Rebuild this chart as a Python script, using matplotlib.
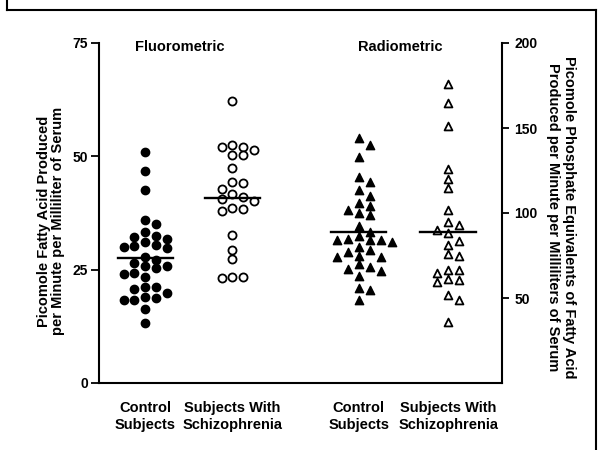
import matplotlib.pyplot as plt
from matplotlib.lines import Line2D

plt.rcParams['font.family'] = ['Liberation Sans', 'DejaVu Sans']
plt.rcParams['font.weight'] = 'bold'

# Datos
groups = ["Control\nSubjects", "Subjects With\nSchizophrenia",
          "Control\nSubjects", "Subjects With\nSchizophrenia"]
panel_titles = ["Fluorometric", "Radiometric"]

# Fluorometrico (eje izquierdo, pmol acido graso / min / ml)
fluoro_control = [51.0, 46.8, 42.6, 36.0, 35.1, 33.4, 32.4, 32.1, 31.7, 31.2, 30.4,
                  30.2, 30.1, 29.7, 27.9, 27.1, 26.5, 25.7, 25.7, 25.3, 24.3, 24.0,
                  23.4, 21.2, 21.2, 20.7, 19.8, 19.0, 18.7, 18.3, 18.3, 16.3, 13.2]
fluoro_schizo = [62.2, 52.6, 52.1, 52.0, 51.5, 50.3, 50.3, 47.5, 44.4, 44.2, 42.7,
                 41.7, 41.0, 40.5, 40.2, 38.7, 38.3, 37.9, 32.6, 29.3, 27.3, 23.3,
                 23.3, 23.1]
fluoro_medians = [27.6, 40.8]

# Radiometrico (eje derecho, pmol equivalentes de fosfato / min / ml)
radio_control = [144, 140, 133, 121, 118, 113.5, 110, 106, 104, 102, 100, 99, 92.5,
                 89, 86.5, 85, 84, 84, 84, 83, 80, 78, 77, 75, 74, 74, 70, 68, 67,
                 66, 63, 56, 55, 49]
radio_schizo = [176, 165, 151, 126, 120, 115, 102, 94.5, 93, 90, 88, 83.5, 81, 76,
                75, 66.5, 66.5, 65, 61, 60.5, 59.5, 52, 49, 36]
radio_medians = [88.8, 88.8]

positions = [1, 2, 3.45, 4.48]


def swarm(values, center, px_per_unit, step=0.126, min_px=8):
    # colocacion simple en columnas para que los puntos no se tapen
    slots = [0, 1, -1, 2, -2, 3, -3, 4, -4]
    placed = []
    xs = []
    for v in values:
        for s in slots:
            if all(not (ps == s and abs(pv - v) * px_per_unit < min_px) for pv, ps in placed):
                placed.append((v, s))
                xs.append(center + s * step)
                break
    return xs


fig = plt.figure(figsize=(5.98, 4.5), dpi=100)
ax = fig.add_axes([99 / 598, 1 - 383 / 450, 403 / 598, 340 / 450])
ax2 = ax.twinx()

ax.set_xlim(0.466, 5.098)
ax.set_ylim(0, 75)
ax2.set_ylim(0, 200)

left_ppu = 340 / 75
right_ppu = 340 / 200

ax.scatter(swarm(fluoro_control, positions[0], left_ppu), fluoro_control,
           s=36, marker='o', color='black', zorder=3)
ax.scatter(swarm(fluoro_schizo, positions[1], left_ppu), fluoro_schizo,
           s=34, marker='o', facecolor='white', edgecolor='black', linewidth=1.3, zorder=3)
ax2.scatter(swarm(radio_control, positions[2], right_ppu), radio_control,
            s=36, marker='^', color='black', zorder=3)
ax2.scatter(swarm(radio_schizo, positions[3], right_ppu), radio_schizo,
            s=32, marker='^', facecolor='white', edgecolor='black', linewidth=1.3, zorder=3)

for p, m in zip(positions[:2], fluoro_medians):
    ax.plot([p - 0.32, p + 0.32], [m, m], color='black', lw=1.7, zorder=4)
for p, m in zip(positions[2:], radio_medians):
    ax2.plot([p - 0.32, p + 0.32], [m, m], color='black', lw=1.7, zorder=4)

# ejes
ax.set_yticks([0, 25, 50, 75])
ax2.set_yticks([50, 100, 150, 200])
ax.tick_params(axis='y', direction='out', length=6, width=1.3, labelsize=10, pad=2)
ax2.tick_params(axis='y', direction='out', length=5, width=1.3, labelsize=10, pad=4)
ax.set_xticks(positions)
ax.set_xticklabels(groups, fontsize=10.5, linespacing=1.25)
ax.tick_params(axis='x', length=0, pad=13)

for a in (ax, ax2):
    a.spines['top'].set_visible(False)
    for sp in a.spines.values():
        sp.set_linewidth(1.5)
ax.spines['right'].set_visible(False)
ax2.spines['left'].set_visible(False)
ax2.spines['bottom'].set_visible(False)

ax.text(1.39, 0.988, panel_titles[0], transform=ax.get_xaxis_transform(),
        ha='center', va='center', fontsize=10.5)
ax.text(3.93, 0.988, panel_titles[1], transform=ax.get_xaxis_transform(),
        ha='center', va='center', fontsize=10.5)

fig.text(51 / 598, 1 - 221 / 450,
         "Picomole Fatty Acid Produced\nper Minute per Milliliter of Serum",
         rotation=90, ha='center', va='center', fontsize=10.5, linespacing=0.95)
fig.text(561 / 598, 1 - 217 / 450,
         "Picomole Phosphate Equivalents of Fatty Acid\nProduced per Minute per Milliliters of Serum",
         rotation=270, ha='center', va='center', fontsize=10.5, linespacing=1.1)

# marco exterior
for xs_, ys_ in [([7, 7], [0, 10]), ([7, 596], [10, 10]), ([596, 596], [10, 450])]:
    fig.add_artist(Line2D([x / 598 for x in xs_], [1 - y / 450 for y in ys_],
                          color='black', lw=1.5))

fig.savefig("out.png", dpi=100)
